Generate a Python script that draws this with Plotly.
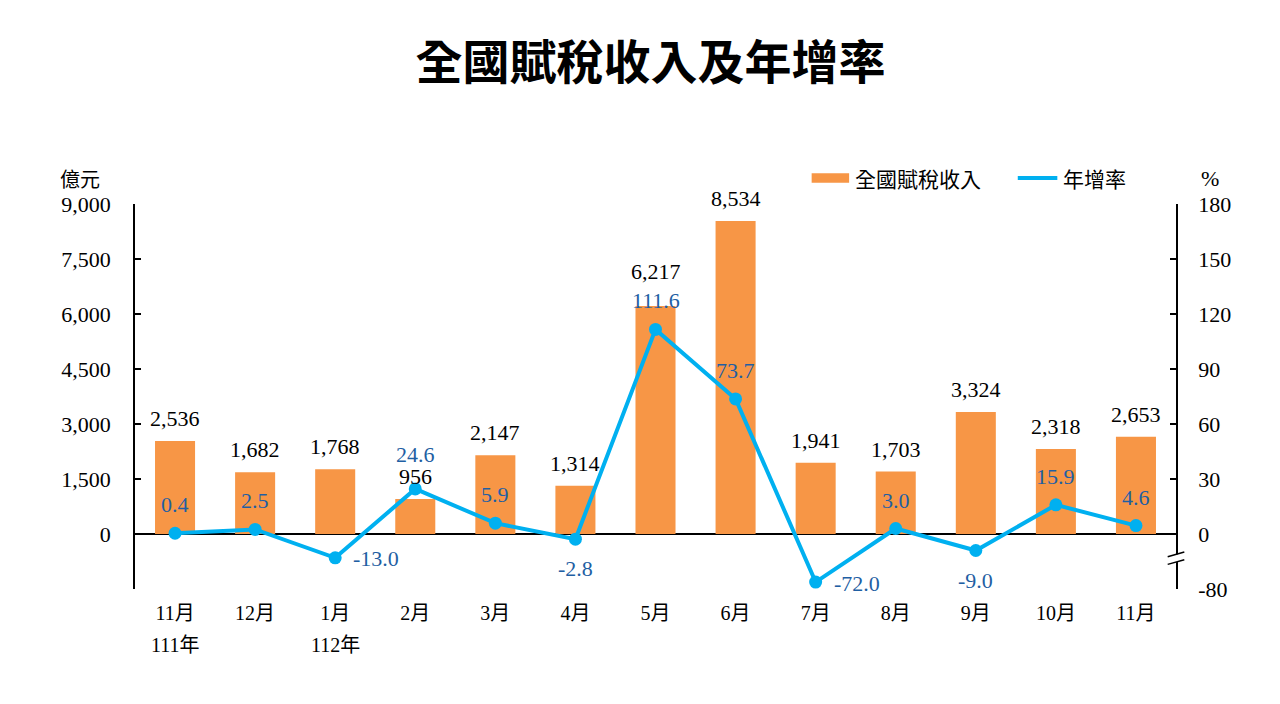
import plotly.graph_objs as go

# data
months = ['11月', '12月', '1月', '2月', '3月', '4月', '5月', '6月', '7月', '8月', '9月', '10月', '11月']
years = ['111年', '', '112年', '', '', '', '', '', '', '', '', '', '']
revenue = [2536, 1682, 1768, 956, 2147, 1314, 6217, 8534, 1941, 1703, 3324, 2318, 2653]  # 億元
growth = [0.4, 2.5, -13.0, 24.6, 5.9, -2.8, 111.6, 73.7, -72.0, 3.0, -9.0, 15.9, 4.6]  # %
left_ticks = [-1500, 0, 1500, 3000, 4500, 6000, 7500, 9000]
right_ticks = [-30, 0, 30, 60, 90, 120, 150, 180]
right_ticktext = ['-80', '0', '30', '60', '90', '120', '150', '180']

# where each growth label sits relative to its point
label_side = ['top', 'top', 'right', 'top', 'top', 'bottom', 'top', 'top',
              'right', 'top', 'bottom', 'top', 'top']
# a couple of labels nudged up to clear their neighbours (as in the original)
bar_lift = {6: 12}
growth_lift = {3: 6}

ORANGE = '#F79646'
CYAN = '#00B0F0'
LBLUE = '#1F5FA3'
NUM_FONT = 'Liberation Serif, Noto Sans CJK TC'
CJK_FONT = 'Noto Sans CJK TC'


def to_axis(v):
    # right axis is broken below -20: compress the deep negative part
    return v if v >= -20 else -20 + (v + 20) * 0.12


xpos = list(range(len(months)))
growth_plot = [to_axis(g) for g in growth]

traces = [go.Bar(x=xpos, y=revenue, name='全國賦稅收入', marker=dict(color=ORANGE, line=dict(width=0)),
                 width=0.5, showlegend=False),
          go.Scatter(x=xpos, y=growth_plot, yaxis='y2', mode='lines+markers', name='年增率',
                     line=dict(color=CYAN, width=4), marker=dict(color=CYAN, size=13), showlegend=False)]

# page body has an 8px margin, so everything is offset by -8 to land where the reference has it
playout = go.Layout(
    width=1280, height=704, plot_bgcolor='white', paper_bgcolor='white',
    margin=dict(l=127, r=112, t=196, b=123),
    font=dict(family=NUM_FONT, size=20, color='black'),
    title=dict(text='<b>全國賦稅收入及年增率</b>', x=0.502, xanchor='center', y=0.923, yanchor='middle',
               font=dict(family=CJK_FONT, size=47, color='black')),
    xaxis=dict(range=[-0.5, len(months) - 0.5], tickvals=xpos, ticktext=months, showline=False, ticks='',
               showgrid=False, zeroline=False, tickfont=dict(family=NUM_FONT, size=20), ticklabelstandoff=10),
    yaxis=dict(range=[-1500, 9000], tickvals=left_ticks,
               ticktext=['' if t < 0 else f'{t:,}' for t in left_ticks],
               showline=True, linecolor='black', linewidth=1.5, ticks='inside', ticklen=6,
               tickcolor='black', tickwidth=1.5, showgrid=False, zeroline=True, zerolinecolor='black',
               zerolinewidth=1.5, tickfont=dict(size=22), ticklabelstandoff=18),
    yaxis2=dict(range=[-30, 180], overlaying='y', side='right', tickvals=right_ticks, ticktext=right_ticktext,
                showline=True, linecolor='black', linewidth=1.5, ticks='inside', ticklen=6,
                tickcolor='black', tickwidth=1.5, showgrid=False, zeroline=False,
                tickfont=dict(size=22), ticklabelstandoff=16),
    bargap=0.5)

fig = go.Figure(data=traces, layout=playout)

# second row of x labels (year)
for x, yr in zip(xpos, years):
    if yr:
        fig.add_annotation(x=x, y=-0.145, yref='paper', text=yr, showarrow=False, yanchor='middle',
                           font=dict(family=NUM_FONT, size=20))

# bar value labels
for x, r in zip(xpos, revenue):
    fig.add_annotation(x=x, y=r, yref='y', text=f'{r:,}', showarrow=False, yanchor='bottom',
                       yshift=8 + bar_lift.get(x, 0), font=dict(family=NUM_FONT, size=22, color='black'))

# growth labels
for x, g, gp, side in zip(xpos, growth, growth_plot, label_side):
    kw = dict(x=x, y=gp, yref='y2', text=f'{g:.1f}', showarrow=False,
              font=dict(family=NUM_FONT, size=22, color=LBLUE))
    if side == 'top':
        kw.update(yanchor='bottom', yshift=14 + growth_lift.get(x, 0))
    elif side == 'bottom':
        kw.update(yanchor='top', yshift=-15)
    else:
        kw.update(xanchor='left', xshift=16, yshift=-1)
    fig.add_annotation(**kw)

# unit labels
fig.add_annotation(x=-0.053, y=1.0675, xref='paper', yref='paper', text='億元', showarrow=False,
                   xanchor='center', yanchor='middle', font=dict(family=CJK_FONT, size=20))
fig.add_annotation(x=1.0327, y=1.0675, xref='paper', yref='paper', text='%', showarrow=False,
                   xanchor='center', yanchor='middle', font=dict(family=NUM_FONT, size=22))

# hand-made legend (wide bar swatch like the original)
fig.add_shape(type='rect', xref='paper', yref='paper', x0=0.650, x1=0.686, y0=1.055, y1=1.080,
              fillcolor=ORANGE, line=dict(width=0))
fig.add_annotation(x=0.690, y=1.0675, xref='paper', yref='paper', xanchor='left', yanchor='middle',
                   text='全國賦稅收入', showarrow=False, font=dict(family=CJK_FONT, size=21))
fig.add_shape(type='line', xref='paper', yref='paper', x0=0.848, x1=0.886, y0=1.0675, y1=1.0675,
              line=dict(color=CYAN, width=4))
fig.add_trace(go.Scatter(x=[0.867], y=[1.0675], xaxis='x2', yaxis='y3', mode='markers', cliponaxis=False,
                         marker=dict(color=CYAN, size=11), showlegend=False, hoverinfo='skip'))
fig.update_layout(xaxis2=dict(range=[0, 1], visible=False, anchor='y3', overlaying='x'),
                  yaxis3=dict(range=[0, 1], visible=False, anchor='x2', overlaying='y'))
fig.add_annotation(x=0.890, y=1.0675, xref='paper', yref='paper', xanchor='left', yanchor='middle',
                   text='年增率', showarrow=False, font=dict(family=CJK_FONT, size=21))

# axis break mark on the right axis
fig.add_shape(type='rect', xref='paper', yref='paper', x0=0.995, x1=1.005, y0=0.070, y1=0.090,
              fillcolor='white', line=dict(width=0), layer='above')
for yb in [0.070, 0.090]:
    fig.add_shape(type='line', xref='paper', yref='paper', x0=0.992, x1=1.008, y0=yb - 0.006, y1=yb + 0.006,
                  line=dict(color='black', width=1.5), layer='above')

fig.write_html('out.html')
